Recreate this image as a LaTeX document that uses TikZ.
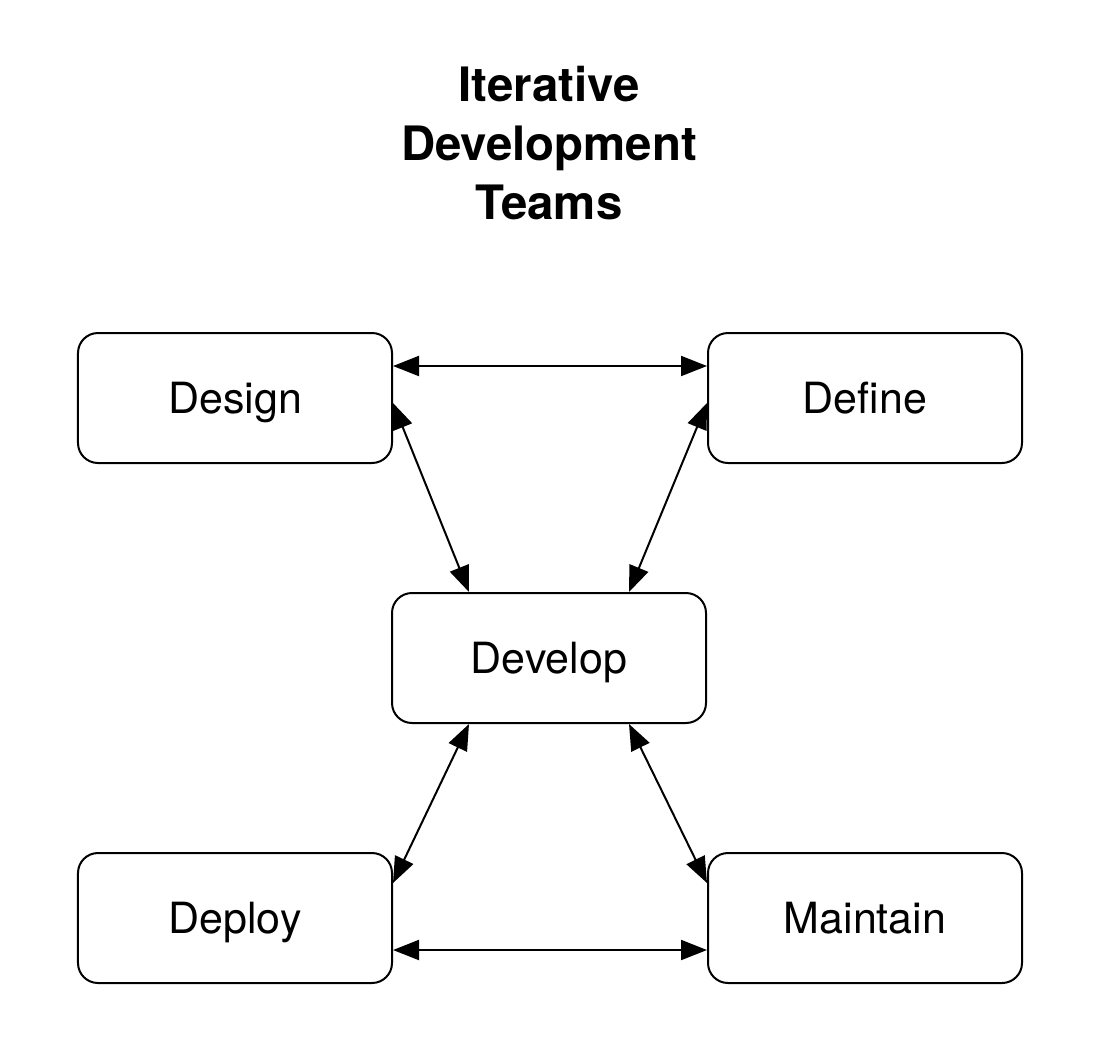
\documentclass[tikz,border=0pt]{standalone}
\usepackage{fontspec}
\setmainfont{TeX Gyre Heros}
\usetikzlibrary{positioning,arrows.meta}

\tikzset{
  team/.style={draw, line width=1pt, rounded corners=10pt,
    minimum width=157pt, minimum height=65pt, text height=15.5pt, text depth=0pt,
    font=\fontsize{21.5}{26}\selectfont},
  link/.style={line width=1pt, {Triangle[length=13pt,width=10pt]}-{Triangle[length=13pt,width=10pt]}}
}

\begin{document}
\begin{tikzpicture}
\useasboundingbox (-117.5pt,199pt) rectangle (435.5pt,-329pt);
% teams
\node[team](design) at (0,0) {Design};
\node[team, right=157pt of design](define) {Define};
\node[team, below right=64pt and -1pt of design](develop) {Develop};
\node[team, below left=64pt and -1pt of develop](deploy) {Deploy};
\node[team, right=157pt of deploy](maintain) {Maintain};
\node[align=center, font=\fontsize{23.7}{29.5}\selectfont\bfseries] (title) at ([yshift=257.5pt]develop.center) {Iterative\\Development\\Teams};
% links
\draw[link] ([yshift=16pt]design.east) -- ([yshift=16pt]define.west);
\draw[link] ([yshift=-2.5pt]design.east) -- ([xshift=-40pt]develop.north);
\draw[link] ([yshift=-2.5pt]define.west) -- ([xshift=40pt]develop.north);
\draw[link] ([xshift=-40pt]develop.south) -- ([yshift=17.5pt]deploy.east);
\draw[link] ([xshift=40pt]develop.south) -- ([yshift=17.5pt]maintain.west);
\draw[link] ([yshift=-16pt]deploy.east) -- ([yshift=-16pt]maintain.west);
\end{tikzpicture}
\end{document}
